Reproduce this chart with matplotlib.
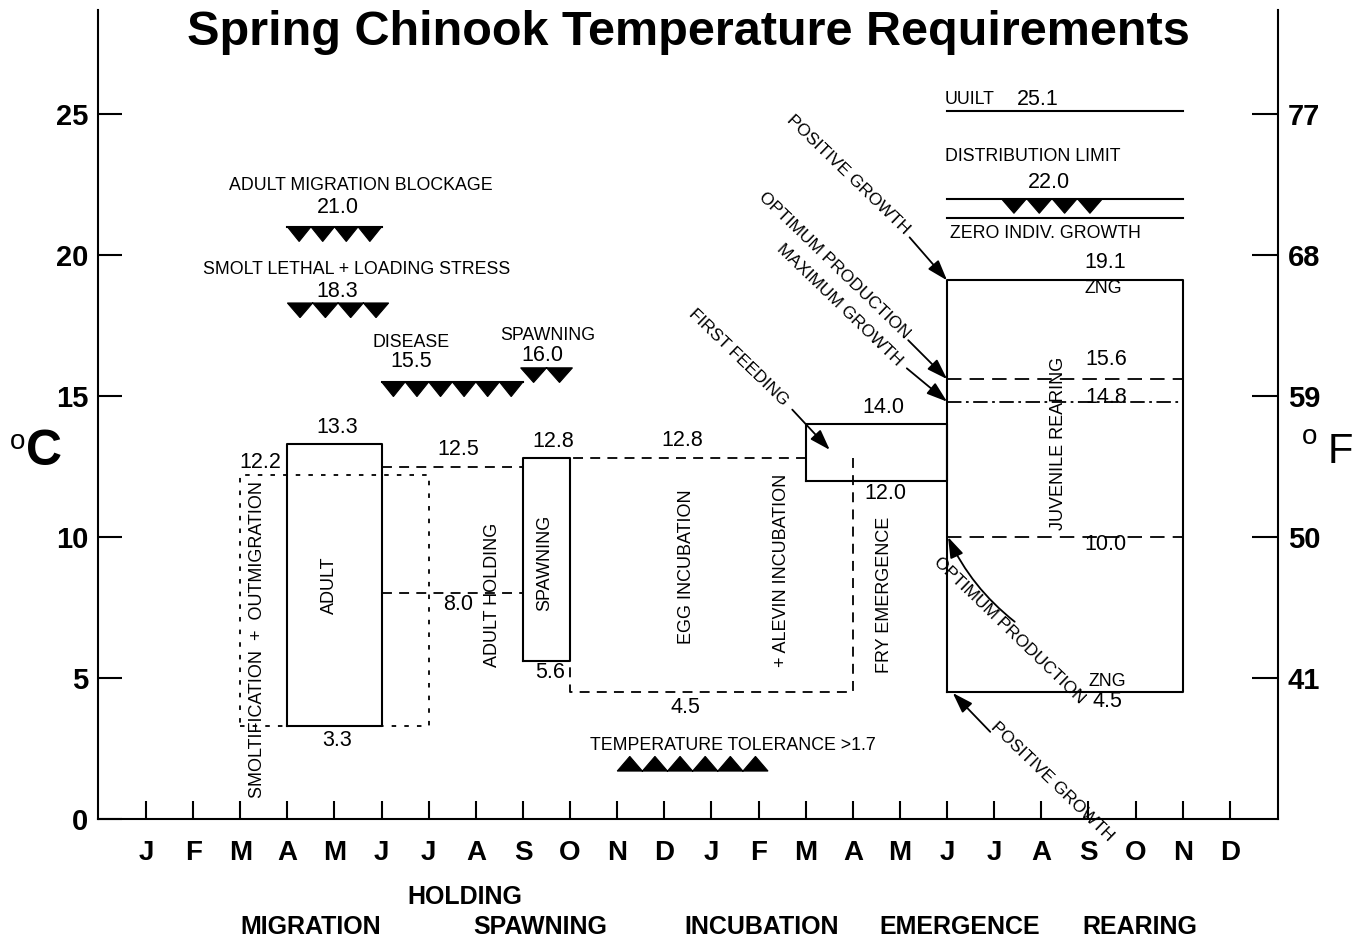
import numpy as np
import matplotlib
matplotlib.use('Agg')
import matplotlib.pyplot as plt

plt.rcParams['font.family'] = ['Liberation Sans', 'DejaVu Sans']

# --- data ---
months = ['J', 'F', 'M', 'A', 'M', 'J', 'J', 'A', 'S', 'O', 'N', 'D'] * 2
c_ticks = [5, 10, 15, 20, 25]
f_ticks = [41, 50, 59, 68, 77]

# threshold rows drawn as saw-tooth triangles (month index start/end)
thr_values = [21.0, 18.3, 15.5, 16.0, 22.0]
thr_start = [3.0, 3.0, 5.0, 7.95, 18.15]
thr_end = [5.0, 5.15, 8.0, 9.05, 20.3]
thr_count = [4, 4, 6, 2, 4]
tol_value = 1.7
tol_start, tol_end, tol_count = 10.0, 13.2, 6

# solid boxes: adult, spawning, fry emergence, juvenile rearing
box_x0 = [3, 8, 14, 17]
box_x1 = [5, 9, 17, 22]
box_lo = [3.3, 5.6, 12.0, 4.5]
box_hi = [13.3, 12.8, 14.0, 19.1]

# dashed / dotted ranges
smolt_x = [2, 6]
smolt_lo, smolt_hi = 3.3, 12.2
hold_x = [5, 8]
hold_lo, hold_hi = 8.0, 12.5
egg_x = [9, 15]
egg_top_end = 14
egg_lo, egg_hi = 4.5, 12.8

# juvenile rearing reference lines
rear_x = [17, 22]
opt_hi, max_growth, opt_lo = 15.6, 14.8, 10.0
uuilt, dist_limit, zero_growth = 25.1, 22.0, 21.3

fig = plt.figure(figsize=(13.66, 9.43), dpi=100)
ax = fig.add_axes([0.0717, 0.1315, 0.8638, 0.8579])
ax.set_xlim(-1.02, 24.02)
ax.set_ylim(0, 28.69)

LW = 1.5
for s in ['top', 'right']:
    ax.spines[s].set_visible(False)
for s in ['left', 'bottom']:
    ax.spines[s].set_linewidth(LW)

ax.set_xticks(range(24), labels=months, fontsize=20, fontweight='bold')
ax.tick_params(axis='x', direction='in', length=13, width=LW, pad=15)
ax.set_yticks([0] + c_ticks, labels=[str(v) for v in [0] + c_ticks],
              fontsize=21, fontweight='bold')
ax.tick_params(axis='y', direction='in', length=17, width=LW, pad=7)

sec = ax.secondary_yaxis('right', functions=(lambda c: c * 9 / 5 + 32,
                                             lambda f: (f - 32) * 5 / 9))
sec.set_yticks(f_ticks, labels=[str(v) for v in f_ticks],
               fontsize=21, fontweight='bold')
sec.tick_params(direction='in', length=19, width=LW, pad=7)
sec.spines['right'].set_linewidth(LW)


def saw(v, s, e, n, down=True, h=0.52):
    w = (e - s) / n
    xs = [s]
    ys = [v]
    for i in range(n):
        xs += [s + (i + 0.5) * w, s + (i + 1) * w]
        ys += [v - h if down else v + h, v]
    ax.fill(xs, ys, color='k', lw=0.8)


for v, s, e, n in zip(thr_values, thr_start, thr_end, thr_count):
    saw(v, s, e, n)
saw(tol_value, tol_start, tol_end, tol_count, down=False)
ax.plot([thr_start[0], thr_end[0]], [thr_values[0]] * 2, color='k', lw=LW)
ax.plot([thr_start[2], thr_end[2]], [thr_values[2]] * 2, color='k', lw=LW)

for x0, x1, lo, hi in zip(box_x0, box_x1, box_lo, box_hi):
    ax.plot([x0, x1, x1, x0, x0], [lo, lo, hi, hi, lo], color='k', lw=LW)

dot = dict(color='k', lw=1.3, dashes=(2.5, 4.5))
ax.plot([smolt_x[0], smolt_x[1], smolt_x[1], smolt_x[0], smolt_x[0]],
        [smolt_lo, smolt_lo, smolt_hi, smolt_hi, smolt_lo], **dot)

dash = dict(color='k', lw=1.3, dashes=(5.5, 4))
ax.plot(hold_x, [hold_hi] * 2, **dash)
ax.plot(hold_x, [hold_lo] * 2, **dash)
ax.plot([egg_top_end, egg_x[0]], [egg_hi] * 2, **dash)
ax.plot([egg_x[1], egg_x[1], egg_x[0], egg_x[0]],
        [egg_hi, egg_lo, egg_lo, box_lo[1]], **dash)

longdash = dict(color='k', lw=1.3, dashes=(8, 4.5))
ax.plot(rear_x, [opt_hi] * 2, **longdash)
ax.plot(rear_x, [opt_lo] * 2, **longdash)
ax.plot(rear_x, [max_growth] * 2, color='k', lw=1.3, dashes=(8, 2.5, 1.5, 2.5))
for v in [uuilt, dist_limit, zero_growth]:
    ax.plot(rear_x, [v] * 2, color='k', lw=LW)

NUM = 15.5
TXT = 12.8
# horizontal labels: (x, y, text, size)
labels = [
    (4.56, 22.45, 'ADULT MIGRATION BLOCKAGE', TXT), (4.07, 21.70, '21.0', NUM),
    (4.46, 19.47, 'SMOLT LETHAL + LOADING STRESS', TXT), (4.05, 18.69, '18.3', NUM),
    (5.62, 16.91, 'DISEASE', TXT), (5.62, 16.21, '15.5', NUM),
    (8.53, 17.13, 'SPAWNING', TXT), (8.42, 16.45, '16.0', NUM),
    (12.45, 2.62, 'TEMPERATURE TOLERANCE >1.7', TXT),
    (2.42, 12.66, '12.2', NUM), (4.05, 13.87, '13.3', NUM), (4.05, 2.80, '3.3', NUM),
    (6.62, 13.09, '12.5', NUM), (6.62, 7.59, '8.0', NUM),
    (8.64, 13.37, '12.8', NUM), (8.57, 5.21, '5.6', NUM),
    (11.37, 13.44, '12.8', NUM), (11.44, 3.94, '4.5', NUM),
    (15.64, 14.61, '14.0', NUM), (15.68, 11.56, '12.0', NUM),
    (20.35, 19.72, '19.1', NUM), (20.31, 18.83, 'ZNG', TXT),
    (20.37, 16.31, '15.6', NUM), (20.37, 14.93, '14.8', NUM),
    (20.37, 9.72, '10.0', NUM), (20.41, 4.86, 'ZNG', TXT), (20.41, 4.15, '4.5', NUM),
    (18.93, 25.50, '25.1', NUM), (19.16, 22.59, '22.0', NUM),
]
for x, y, t, s in labels:
    ax.text(x, y, t, fontsize=s, ha='center', va='center')

left_labels = [(16.95, 25.5, 'UUILT'), (16.95, 23.48, 'DISTRIBUTION LIMIT'),
               (17.06, 20.78, 'ZERO INDIV. GROWTH')]
for x, y, t in left_labels:
    ax.text(x, y, t, fontsize=TXT, ha='left', va='center')

vert_labels = [
    (2.36, 6.35, 'SMOLTIFICATION  +  OUTMIGRATION'), (3.90, 8.30, 'ADULT'),
    (7.36, 7.94, 'ADULT HOLDING'), (8.47, 9.08, 'SPAWNING'),
    (11.48, 8.94, 'EGG INCUBATION'), (13.49, 8.83, '+ ALEVIN INCUBATION'),
    (15.68, 7.94, 'FRY EMERGENCE'), (19.37, 13.33, 'JUVENILE REARING'),
]
for x, y, t in vert_labels:
    ax.text(x, y, t, fontsize=13, rotation=90, ha='center', va='center')

# arrows: tip (data), tail offset (points), label position, label
arrow_tip = [(17, 19.1), (17, opt_hi), (17, max_growth), (14.51, 13.09),
             (17.02, opt_lo), (17.12, 4.47)]
arrow_off = [(-27, 31), (-28, 28), (-29, 24), (-27, 29), (48, -61), (27, -28)]
arrow_rad = [0, 0, 0, 0, -0.12, 0]
arrow_lab = [(14.9, 22.84, 'POSITIVE GROWTH'), (14.6, 19.65, 'OPTIMUM PRODUCTION'),
             (14.72, 18.23, 'MAXIMUM GROWTH'), (12.58, 16.38, 'FIRST FEEDING'),
             (18.33, 6.70, 'OPTIMUM PRODUCTION'), (19.22, 1.31, 'POSITIVE GROWTH')]
for tip, off, rad, (lx, ly, lt) in zip(arrow_tip, arrow_off, arrow_rad, arrow_lab):
    ax.annotate('', xy=tip, xytext=off, textcoords='offset points',
                arrowprops=dict(arrowstyle='-|>,head_length=0.9,head_width=0.3',
                                mutation_scale=14, color='k', lw=1.3,
                                shrinkA=0, shrinkB=0,
                                connectionstyle=f'arc3,rad={rad}'))
    ax.text(lx, ly, lt, fontsize=12.5, rotation=-44, ha='center', va='center',
            rotation_mode='anchor')

fig.text(0.5037, 0.966, 'Spring Chinook Temperature Requirements',
         fontsize=35, fontweight='bold', ha='center', va='center')

stages = [(311, 927, 'MIGRATION'), (465, 897, 'HOLDING'), (540, 927, 'SPAWNING'),
          (762, 927, 'INCUBATION'), (960, 927, 'EMERGENCE'), (1140, 927, 'REARING')]
for x, y, t in stages:
    fig.text(x / 1366, 1 - y / 943, t, fontsize=18, fontweight='bold',
             ha='center', va='center')

fig.text(44 / 1366, 1 - 452 / 943, 'C', fontsize=36, fontweight='bold',
         ha='center', va='center')
fig.text(18 / 1366, 1 - 442 / 943, 'o', fontsize=20, ha='center', va='center')
fig.text(1340 / 1366, 1 - 452 / 943, 'F', fontsize=30, ha='center', va='center')
fig.text(1310 / 1366, 1 - 437 / 943, 'o', fontsize=20, ha='center', va='center')

fig.savefig('out.png', dpi=100)
